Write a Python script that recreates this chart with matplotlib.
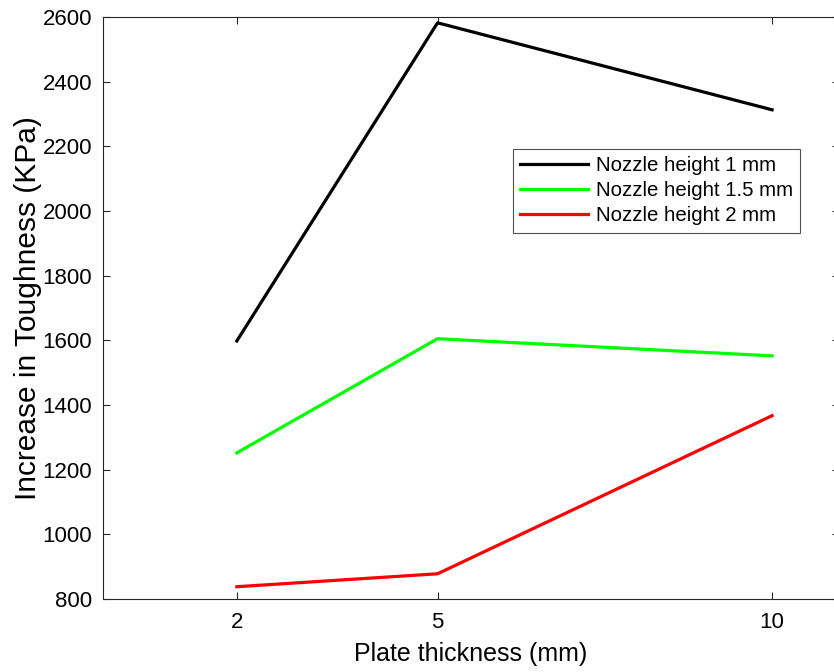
import matplotlib
matplotlib.use('Agg')
import matplotlib.pyplot as plt

plt.rcParams['font.family'] = ['Liberation Sans', 'DejaVu Sans']

thickness = [2, 5, 10]
nozzle_1 = [1598, 2582, 2313]
nozzle_15 = [1252, 1605, 1552]
nozzle_2 = [838, 878, 1367]

labels = ['Nozzle height 1 mm', 'Nozzle height 1.5 mm', 'Nozzle height 2 mm']
colors = ['black', '#00ff00', 'red']

fig = plt.figure(figsize=(8.34, 6.72), dpi=100)
ax = fig.add_axes([103/834, 73/672, 736/834, 582/672])

for vals, lab, c in zip([nozzle_1, nozzle_15, nozzle_2], labels, colors):
    ax.plot(thickness, vals, color=c, lw=2.3, label=lab)

ax.set_xlim(0, 11)
ax.set_ylim(800, 2600)
ax.set_xticks(thickness)
ax.set_yticks(range(800, 2601, 200))
ax.tick_params(direction='in', labelsize=16, length=5, width=0.8, colors='#262626',
               top=True, right=True)
ax.tick_params(axis='x', pad=9)
ax.tick_params(axis='y', pad=8)
for lbl in ax.get_xticklabels() + ax.get_yticklabels():
    lbl.set_color('black')
for s in ax.spines.values():
    s.set_color('#262626')
    s.set_linewidth(0.8)

ax.set_xlabel('Plate thickness (mm)', fontsize=18, labelpad=7)
ax.set_ylabel('Increase in Toughness (KPa)', fontsize=21.5, labelpad=0)

leg = ax.legend(loc='upper left', bbox_to_anchor=(410/736, 450/582), fontsize=14.7,
                frameon=True, fancybox=False, edgecolor='#262626', handlelength=3.3,
                borderpad=0.35, labelspacing=0.3, handletextpad=0.4, borderaxespad=0)
leg.get_frame().set_linewidth(0.8)

fig.savefig('out.png', dpi=100)
